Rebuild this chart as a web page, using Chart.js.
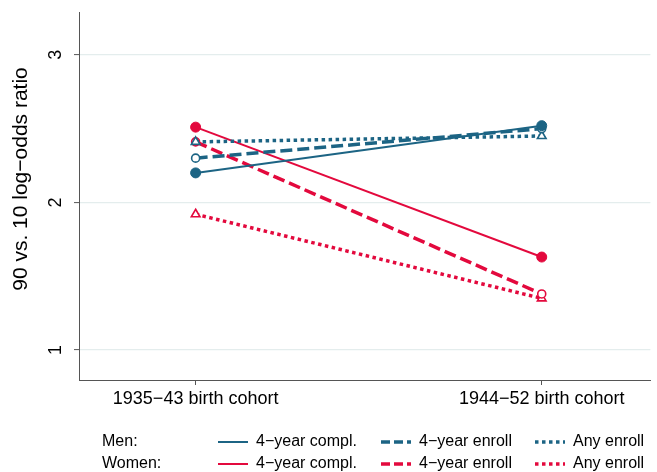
<!DOCTYPE html>
<html>
<head>
<meta charset="utf-8">
<script src="https://cdn.jsdelivr.net/npm/chart.js@4/dist/chart.umd.min.js"></script>
<style>
  html, body { margin: 0; padding: 0; background: #ffffff; }
  #wrap { width: 657px; height: 472px; }
</style>
</head>
<body>
<div id="wrap"><canvas id="c" width="657" height="472"></canvas></div>
<script>
// Cohorts on the horizontal axis
const categories = ['1935\u221243 birth cohort', '1944\u221252 birth cohort'];

// 90 vs. 10 log-odds ratio by cohort
const menCompl    = [2.20, 2.52];
const menEnroll4  = [2.30, 2.50];
const menAny      = [2.41, 2.45];
const womenCompl  = [2.51, 1.63];
const womenEnroll4 = [2.41, 1.38];
const womenAny    = [1.92, 1.35];

// Y-axis tick values
const yTicks = [1, 2, 3];

const BLUE = '#1c6484';
const RED = '#e3093d';
const FONT = '"Liberation Sans", Arial, Helvetica, sans-serif';

const toPoints = vals => vals.map((v, i) => ({ x: i + 1, y: v }));

function series(label, vals, color, kind, marker) {
  const base = {
    label: label,
    data: toPoints(vals),
    borderColor: color,
    backgroundColor: color,
    pointBorderColor: color,
    fill: false,
    tension: 0,
    legendText: label
  };
  if (kind === 'solid') {
    Object.assign(base, { borderWidth: 2, borderDash: [] });
  } else if (kind === 'dash') {
    Object.assign(base, { borderWidth: 3.5, borderDash: [12, 5] });
  } else {
    Object.assign(base, { borderWidth: 3.5, borderDash: [3.5, 3.5] });
  }
  if (marker === 'filled') {
    Object.assign(base, { pointStyle: 'circle', pointRadius: 5, pointBackgroundColor: color, pointBorderWidth: 1 });
  } else if (marker === 'hollow') {
    Object.assign(base, { pointStyle: 'circle', pointRadius: 4, pointBackgroundColor: '#ffffff', pointBorderWidth: 1.6 });
  } else {
    Object.assign(base, { pointStyle: 'triangle', pointRadius: 5, pointBackgroundColor: '#ffffff', pointBorderWidth: 1.6 });
  }
  return base;
}

const datasets = [
  Object.assign(series('4\u2212year compl.', menCompl, BLUE, 'solid', 'filled'), { group: 0, col: 0 }),
  Object.assign(series('4\u2212year enroll', menEnroll4, BLUE, 'dash', 'hollow'), { group: 0, col: 1 }),
  Object.assign(series('Any enroll', menAny, BLUE, 'dot', 'triangle'), { group: 0, col: 2 }),
  Object.assign(series('4\u2212year compl.', womenCompl, RED, 'solid', 'filled'), { group: 1, col: 0 }),
  Object.assign(series('4\u2212year enroll', womenEnroll4, RED, 'dash', 'hollow'), { group: 1, col: 1 }),
  Object.assign(series('Any enroll', womenAny, RED, 'dot', 'triangle'), { group: 1, col: 2 })
];

const groupNames = ['Men:', 'Women:'];

// Rotated y tick labels, y title and the two-row legend
const decor = {
  id: 'decor',
  afterDraw(chart) {
    const ctx = chart.ctx;
    const y = chart.scales.y;
    ctx.save();
    ctx.fillStyle = '#000000';

    // y tick labels, reading upward
    ctx.font = '18px ' + FONT;
    ctx.textAlign = 'center';
    ctx.textBaseline = 'middle';
    yTicks.forEach(t => {
      const py = y.getPixelForValue(t);
      ctx.save();
      ctx.translate(56, py);
      ctx.rotate(-Math.PI / 2);
      ctx.fillText(String(t), 0, 0);
      ctx.restore();
    });

    // y axis title
    ctx.save();
    ctx.font = '21px ' + FONT;
    ctx.translate(21, 179);
    ctx.rotate(-Math.PI / 2);
    ctx.fillText('90 vs. 10 log\u2212odds ratio', 0, 0);
    ctx.restore();

    // legend
    const rowY = [442, 464];
    const lineX = [218, 381, 535];
    const lineLen = 30;
    ctx.font = '16px ' + FONT;
    ctx.textAlign = 'left';
    ctx.textBaseline = 'middle';
    groupNames.forEach((g, r) => ctx.fillText(g, 102, rowY[r]));
    chart.data.datasets.forEach(ds => {
      const ly = rowY[ds.group];
      const lx = lineX[ds.col];
      ctx.save();
      ctx.strokeStyle = ds.borderColor;
      ctx.lineWidth = ds.borderWidth;
      ctx.setLineDash(ds.borderDash.length ? (ds.borderDash[0] > 5 ? [9, 4] : [3.5, 3.5]) : []);
      ctx.beginPath();
      ctx.moveTo(lx, ly);
      ctx.lineTo(lx + lineLen, ly);
      ctx.stroke();
      ctx.restore();
      ctx.fillStyle = '#000000';
      ctx.fillText(ds.legendText, lx + lineLen + 8, ly);
    });
    ctx.restore();
  }
};

new Chart(document.getElementById('c'), {
  type: 'line',
  data: { datasets: datasets },
  options: {
    responsive: false,
    animation: false,
    devicePixelRatio: 1,
    layout: { padding: { top: 12, right: 0, bottom: 0, left: 0 } },
    plugins: {
      legend: { display: false },
      tooltip: { enabled: false }
    },
    scales: {
      x: {
        type: 'linear',
        min: 0.663,
        max: 2.314,
        afterFit: s => { s.height = 92; },
        afterBuildTicks: s => { s.ticks = categories.map((c, i) => ({ value: i + 1 })); },
        ticks: {
          callback: v => categories[v - 1],
          font: { family: FONT, size: 18 },
          color: '#000000',
          padding: 3,
          maxRotation: 0,
          minRotation: 0,
          autoSkip: false
        },
        grid: { drawOnChartArea: false, drawTicks: true, tickLength: 5, tickColor: '#555555', tickWidth: 1 },
        border: { display: true, color: '#555555', width: 1 }
      },
      y: {
        type: 'linear',
        min: 0.797,
        max: 3.29,
        afterFit: s => { s.width = 79; },
        afterBuildTicks: s => { s.ticks = yTicks.map(v => ({ value: v })); },
        ticks: { display: false },
        grid: { color: '#e4eded', lineWidth: 1.2, drawTicks: true, tickLength: 5, tickColor: '#555555', tickWidth: 1 },
        border: { display: true, color: '#555555', width: 1 }
      }
    }
  },
  plugins: [decor]
});
</script>
</body>
</html>
